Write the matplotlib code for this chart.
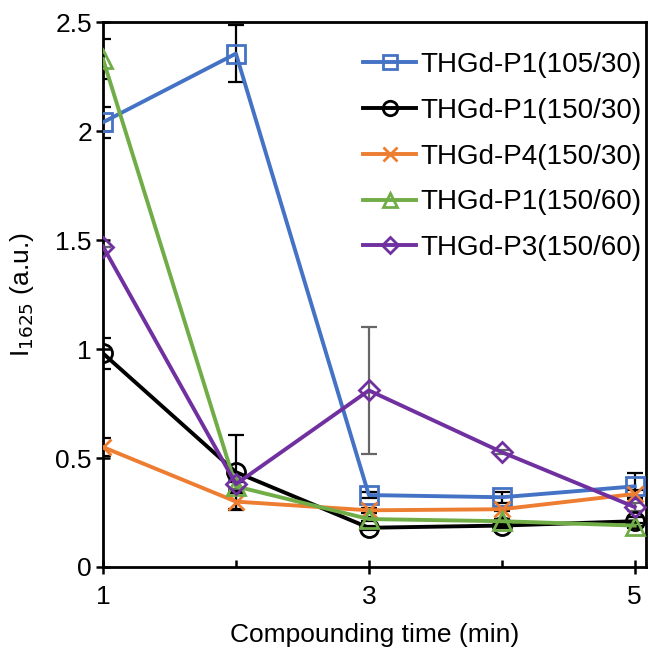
import matplotlib
matplotlib.use("Agg")
import matplotlib.pyplot as plt

plt.rcParams['font.family'] = ['Liberation Sans', 'DejaVu Sans']

x = [1, 2, 3, 4, 5]
labels = ["THGd-P1(105/30)", "THGd-P1(150/30)", "THGd-P4(150/30)",
          "THGd-P1(150/60)", "THGd-P3(150/60)"]
p1_105_30 = [2.04, 2.355, 0.33, 0.32, 0.37]
p1_105_30_err = [0.07, 0.13, 0.015, 0.025, 0.06]
p1_150_30 = [0.98, 0.435, 0.18, 0.19, 0.21]
p1_150_30_err = [0.07, 0.17, 0.01, 0.01, 0.02]
p4_150_30 = [0.55, 0.30, 0.26, 0.265, 0.335]
p4_150_30_err = [0.04, 0.04, 0.01, 0.01, 0.02]
p1_150_60 = [2.33, 0.37, 0.22, 0.21, 0.19]
p1_150_60_err = [0.09, 0.02, 0.01, 0.01, 0.01]
p3_150_60 = [1.47, 0.38, 0.81, 0.527, 0.275]
p3_150_60_err = [0.0, 0.02, 0.29, 0.01, 0.02]

series = [p1_105_30, p1_150_30, p4_150_30, p1_150_60, p3_150_60]
errors = [p1_105_30_err, p1_150_30_err, p4_150_30_err, p1_150_60_err, p3_150_60_err]
colors = ['#4472C4', '#000000', '#ED7D31', '#70AD47', '#7030A0']
markers = ['s', 'o', 'x', '^', 'D']
msizes = [13, 13, 12, 13, 10]
ecolors = ['black', 'black', 'black', 'black', '#666666']

fig = plt.figure(figsize=(6.49, 6.53), dpi=100)
ax = fig.add_axes([0.1587, 0.1317, 0.9954 - 0.1587, 0.9663 - 0.1317])

for ys, es, c, m, ms, ec, lab in zip(series, errors, colors, markers, msizes, ecolors, labels):
    ax.errorbar(x, ys, yerr=es, fmt='none', ecolor=ec, elinewidth=1.6, capsize=6,
                capthick=1.6, zorder=2)
    ax.plot(x, ys, color=c, lw=2.8, marker=m, ms=ms, mfc='none', mec=c, mew=2.0,
            label=lab, zorder=3)

ax.set_xlim(1, 5.085)
ax.set_ylim(0, 2.5)
ax.set_xticks([1, 3, 5])
ax.set_xticks([2, 4], minor=True)
ax.set_yticks([0, 0.5, 1, 1.5, 2, 2.5])
ax.set_yticklabels(['0', '0.5', '1', '1.5', '2', '2.5'])
ax.tick_params(axis='both', which='major', direction='inout', length=10, width=1.8,
               labelsize=19, colors='black', pad=8)
ax.tick_params(axis='y', which='major', pad=3)
ax.tick_params(axis='x', which='minor', direction='in', length=5, width=1.8)
for s in ax.spines.values():
    s.set_linewidth(2.0)

ax.set_xlabel('Compounding time (min)', fontsize=19, labelpad=10)
ax.set_ylabel('I$_{1625}$ (a.u.)', fontsize=19, labelpad=14)

leg = ax.legend(loc='upper right', bbox_to_anchor=(1.002, 0.955), frameon=False,
                fontsize=20, handlelength=1.9, handletextpad=0.15, labelspacing=0.71,
                borderaxespad=0.0, borderpad=0.2, markerscale=0.8)

fig.savefig('out.png', dpi=100)
